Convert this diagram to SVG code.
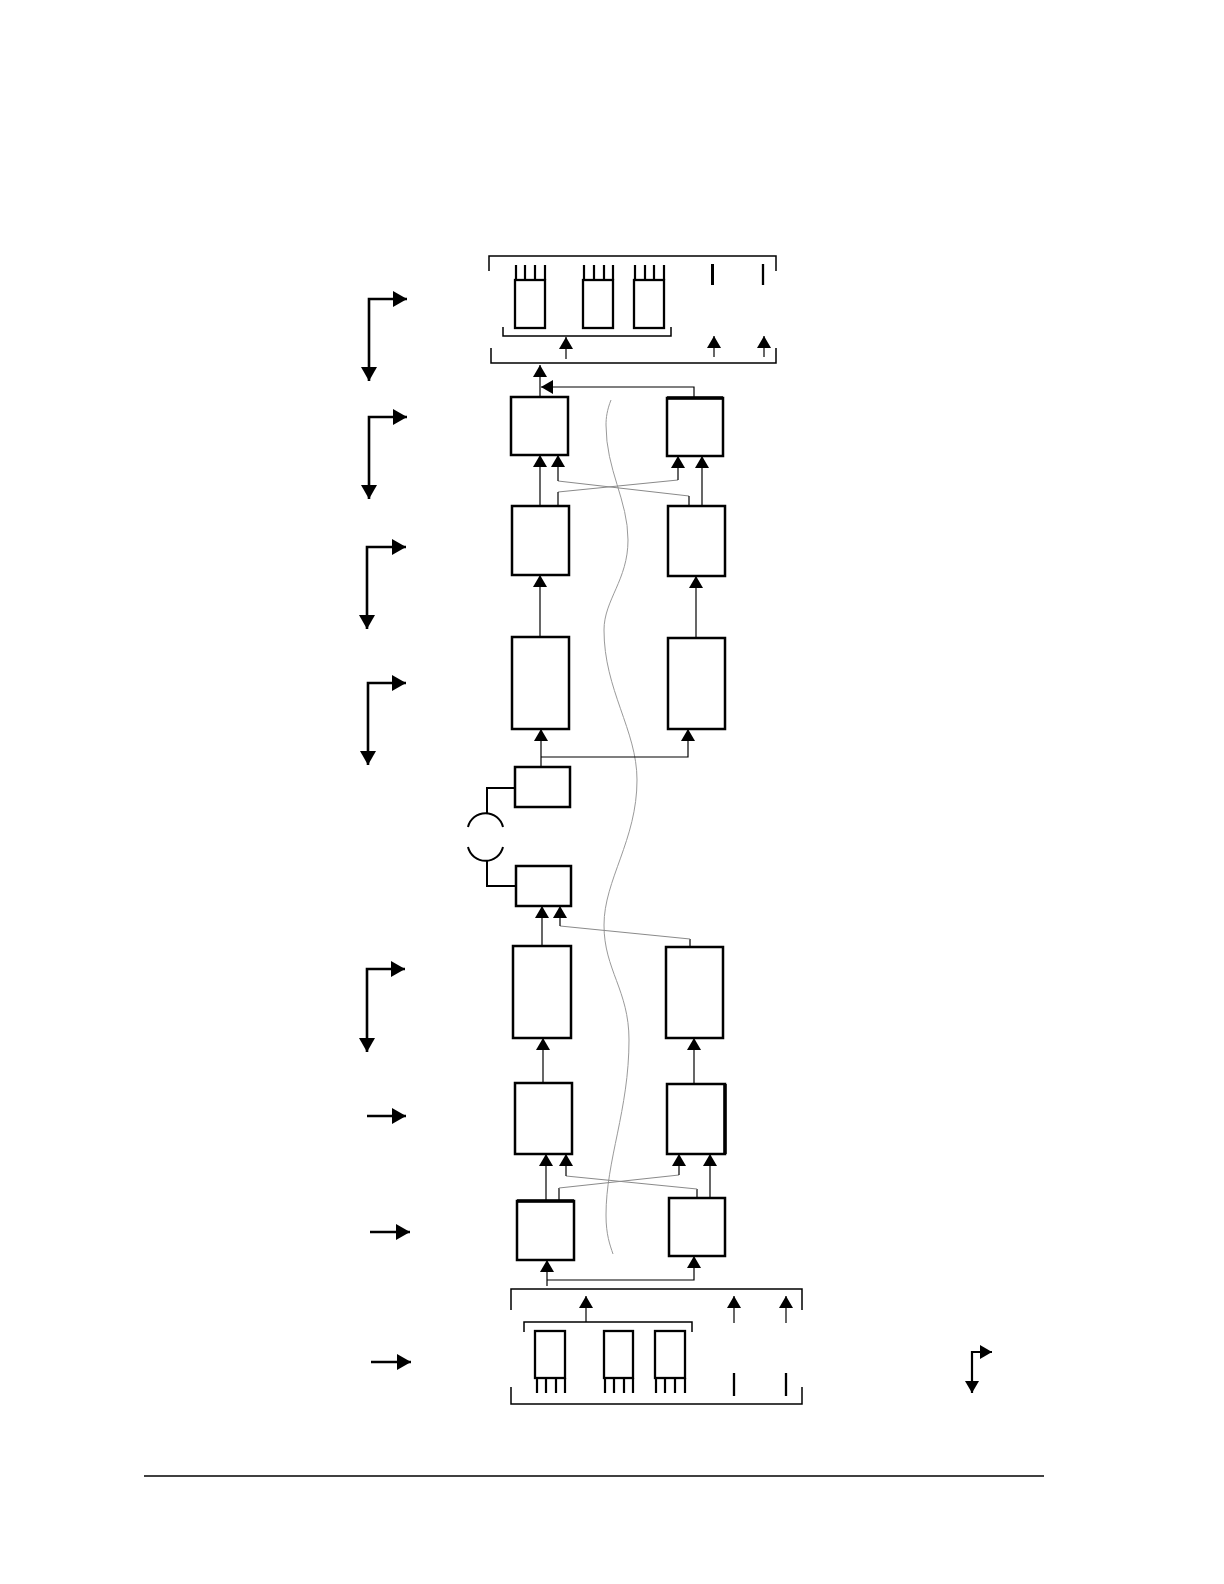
<svg xmlns="http://www.w3.org/2000/svg" width="1224" height="1584" viewBox="0 0 1224 1584">
<style>
.box{fill:#fff;stroke:#000;stroke-width:2.5}
.mod{fill:#fff;stroke:#000;stroke-width:2.3}
.pin{stroke:#000;stroke-width:2.2;fill:none}
.br{fill:none;stroke:#000;stroke-width:1.5}
.c{fill:none;stroke:#000;stroke-width:1.2}
.g{fill:none;stroke:#8a8a8a;stroke-width:1}
.big{fill:none;stroke:#000;stroke-width:2.6}
.wave{fill:none;stroke:#9a9a9a;stroke-width:1}
</style>
<defs>
<marker id="ah" markerUnits="userSpaceOnUse" markerWidth="13" markerHeight="14" refX="12" refY="7" orient="auto"><path d="M0,0 L12,7 L0,14 z" fill="#000"/></marker>
<marker id="ahb" markerUnits="userSpaceOnUse" markerWidth="15" markerHeight="16" refX="14" refY="8" orient="auto-start-reverse"><path d="M0,0 L14,8 L0,16 z" fill="#000"/></marker>
<marker id="ahs" markerUnits="userSpaceOnUse" markerWidth="14" markerHeight="14" refX="12" refY="7" orient="auto-start-reverse"><path d="M0,0 L12,7 L0,14 z" fill="#000"/></marker>
</defs>
<rect width="1224" height="1584" fill="#fff"/>

<g id="top-assembly">
<path class="br" d="M489,271 V256 H776 V271"/>
<rect class="mod" x="515" y="280" width="30" height="48"/>
<rect class="mod" x="583" y="280" width="30" height="48"/>
<rect class="mod" x="634" y="280" width="30" height="48"/>
<path class="pin" d="M516,265V280M525,265V280M535,265V280M545,265V280M584,265V280M594,265V280M604,265V280M613,265V280M635,265V280M645,265V280M654,265V280M664,265V280"/>
<path d="M712.5,264V285" stroke="#000" stroke-width="3"/>
<path d="M763,264V285" stroke="#000" stroke-width="2.3"/>
<path class="br" d="M503,327 V336 H671 V327"/>
<path class="c" d="M566,359V337" marker-end="url(#ah)"/>
<path class="c" d="M714,357V336" marker-end="url(#ah)"/>
<path class="c" d="M764,357V336" marker-end="url(#ah)"/>
<path class="br" d="M491,348 V363 H776 V348"/>
</g>

<g id="bottom-assembly">
<path class="br" d="M511,1310 V1289 H802 V1310"/>
<path class="br" d="M511,1387 V1404 H802 V1387"/>
<path class="br" d="M524,1332 V1322 H692 V1332"/>
<path class="c" d="M586,1322V1296" marker-end="url(#ah)"/>
<path class="c" d="M734,1323V1296" marker-end="url(#ah)"/>
<path class="c" d="M786,1323V1296" marker-end="url(#ah)"/>
<rect class="mod" x="535" y="1331" width="30" height="47"/>
<rect class="mod" x="604" y="1331" width="29" height="47"/>
<rect class="mod" x="655" y="1331" width="30" height="47"/>
<path class="pin" d="M537,1378V1393M546,1378V1393M556,1378V1393M565,1378V1393M605,1378V1393M614,1378V1393M624,1378V1393M633,1378V1393M656,1378V1393M665,1378V1393M675,1378V1393M685,1378V1393"/>
<path d="M734,1373V1396M786,1373V1396" stroke="#000" stroke-width="2.3"/>
</g>

<g id="TL1"><rect class="box" x="511" y="397" width="57" height="58"/></g>
<g id="TR1"><rect class="box" x="667" y="398" width="56" height="58"/><path d="M667,398H723" stroke="#000" stroke-width="3.5"/></g>
<g id="L2"><rect class="box" x="512" y="506" width="57" height="69"/></g>
<g id="R2"><rect class="box" x="668" y="506" width="57" height="70"/></g>
<g id="L3"><rect class="box" x="512" y="637" width="57" height="92"/></g>
<g id="R3"><rect class="box" x="668" y="638" width="57" height="91"/></g>
<g id="A"><rect class="box" x="515" y="767" width="55" height="40"/></g>
<g id="B"><rect class="box" x="516" y="866" width="55" height="40"/></g>
<g id="L4"><rect class="box" x="513" y="946" width="58" height="92"/></g>
<g id="R4"><rect class="box" x="666" y="947" width="57" height="91"/></g>
<g id="L5"><rect class="box" x="515" y="1083" width="57" height="71"/></g>
<g id="R5"><rect class="box" x="667" y="1084" width="58" height="70"/><path d="M725,1084V1154" stroke="#000" stroke-width="3.5"/></g>
<g id="L6"><rect class="box" x="517" y="1201" width="57" height="59"/><path d="M517,1201H574" stroke="#000" stroke-width="3.5"/></g>
<g id="R6"><rect class="box" x="669" y="1198" width="56" height="58"/></g>

<path class="wave" d="M611,400 C607,410 606,418 606,425 C606,470 628,500 628,540 C628,580 604,600 604,630 C604,690 637,730 637,780 C637,840 604,880 604,925 C604,970 629,990 629,1040 C629,1110 606,1160 606,1215 C606,1235 610,1245 613,1254"/>

<g id="connectors">
<path class="c" d="M540,397V365" marker-end="url(#ah)"/>
<path class="c" d="M694,398V387H541" marker-end="url(#ah)"/>
<path class="c" d="M540,506V455" marker-end="url(#ah)"/>
<path class="g" d="M689,496L558,481"/>
<path class="c" d="M689,506V496"/>
<path class="c" d="M558,481V455" marker-end="url(#ah)"/>
<path class="g" d="M558,492L678,480"/>
<path class="c" d="M558,506V492"/>
<path class="c" d="M678,480V456" marker-end="url(#ah)"/>
<path class="c" d="M702,506V456" marker-end="url(#ah)"/>
<path class="c" d="M540,637V575" marker-end="url(#ah)"/>
<path class="c" d="M696,638V576" marker-end="url(#ah)"/>
<path class="c" d="M541,767V729" marker-end="url(#ah)"/>
<path class="c" d="M541,757H688V729" marker-end="url(#ah)"/>
<path class="big" d="M515,788H487V813" style="stroke-width:2"/>
<path class="big" d="M468,827 A18,18 0 0 1 503,827" style="stroke-width:2"/>
<path class="big" d="M468,847 A18,18 0 0 0 503,847" style="stroke-width:2"/>
<path class="big" d="M487,861V886H516" style="stroke-width:2"/>
<path class="c" d="M542,946V906" marker-end="url(#ah)"/>
<path class="c" d="M690,947V939"/>
<path class="g" d="M690,939L560,926"/>
<path class="c" d="M560,926V906" marker-end="url(#ah)"/>
<path class="c" d="M543,1083V1038" marker-end="url(#ah)"/>
<path class="c" d="M694,1084V1038" marker-end="url(#ah)"/>
<path class="c" d="M546,1201V1154" marker-end="url(#ah)"/>
<path class="c" d="M697,1198V1189"/>
<path class="g" d="M697,1189L566,1176"/>
<path class="c" d="M566,1176V1154" marker-end="url(#ah)"/>
<path class="c" d="M559,1201V1188"/>
<path class="g" d="M559,1188L679,1175"/>
<path class="c" d="M679,1175V1154" marker-end="url(#ah)"/>
<path class="c" d="M710,1198V1154" marker-end="url(#ah)"/>
<path class="c" d="M547,1286V1260" marker-end="url(#ah)"/>
<path class="c" d="M547,1280H694V1256" marker-end="url(#ah)"/>
</g>

<g id="side-arrows">
<path class="big" d="M407,299H369V381" marker-start="url(#ahb)" marker-end="url(#ahb)"/>
<path class="big" d="M407,417H369V499" marker-start="url(#ahb)" marker-end="url(#ahb)"/>
<path class="big" d="M406,547H367V629" marker-start="url(#ahb)" marker-end="url(#ahb)"/>
<path class="big" d="M406,683H368V765" marker-start="url(#ahb)" marker-end="url(#ahb)"/>
<path class="big" d="M405,969H367V1052" marker-start="url(#ahb)" marker-end="url(#ahb)"/>
<path class="big" d="M367,1116H406" marker-end="url(#ahb)"/>
<path class="big" d="M370,1232H410" marker-end="url(#ahb)"/>
<path class="big" d="M371,1362H411" marker-end="url(#ahb)"/>
<path class="big" d="M992,1352H972V1393" style="stroke-width:2.2" marker-start="url(#ahs)" marker-end="url(#ahs)"/>
</g>

<path d="M144,1476H1044" stroke="#000" stroke-width="1.5"/>
</svg>
